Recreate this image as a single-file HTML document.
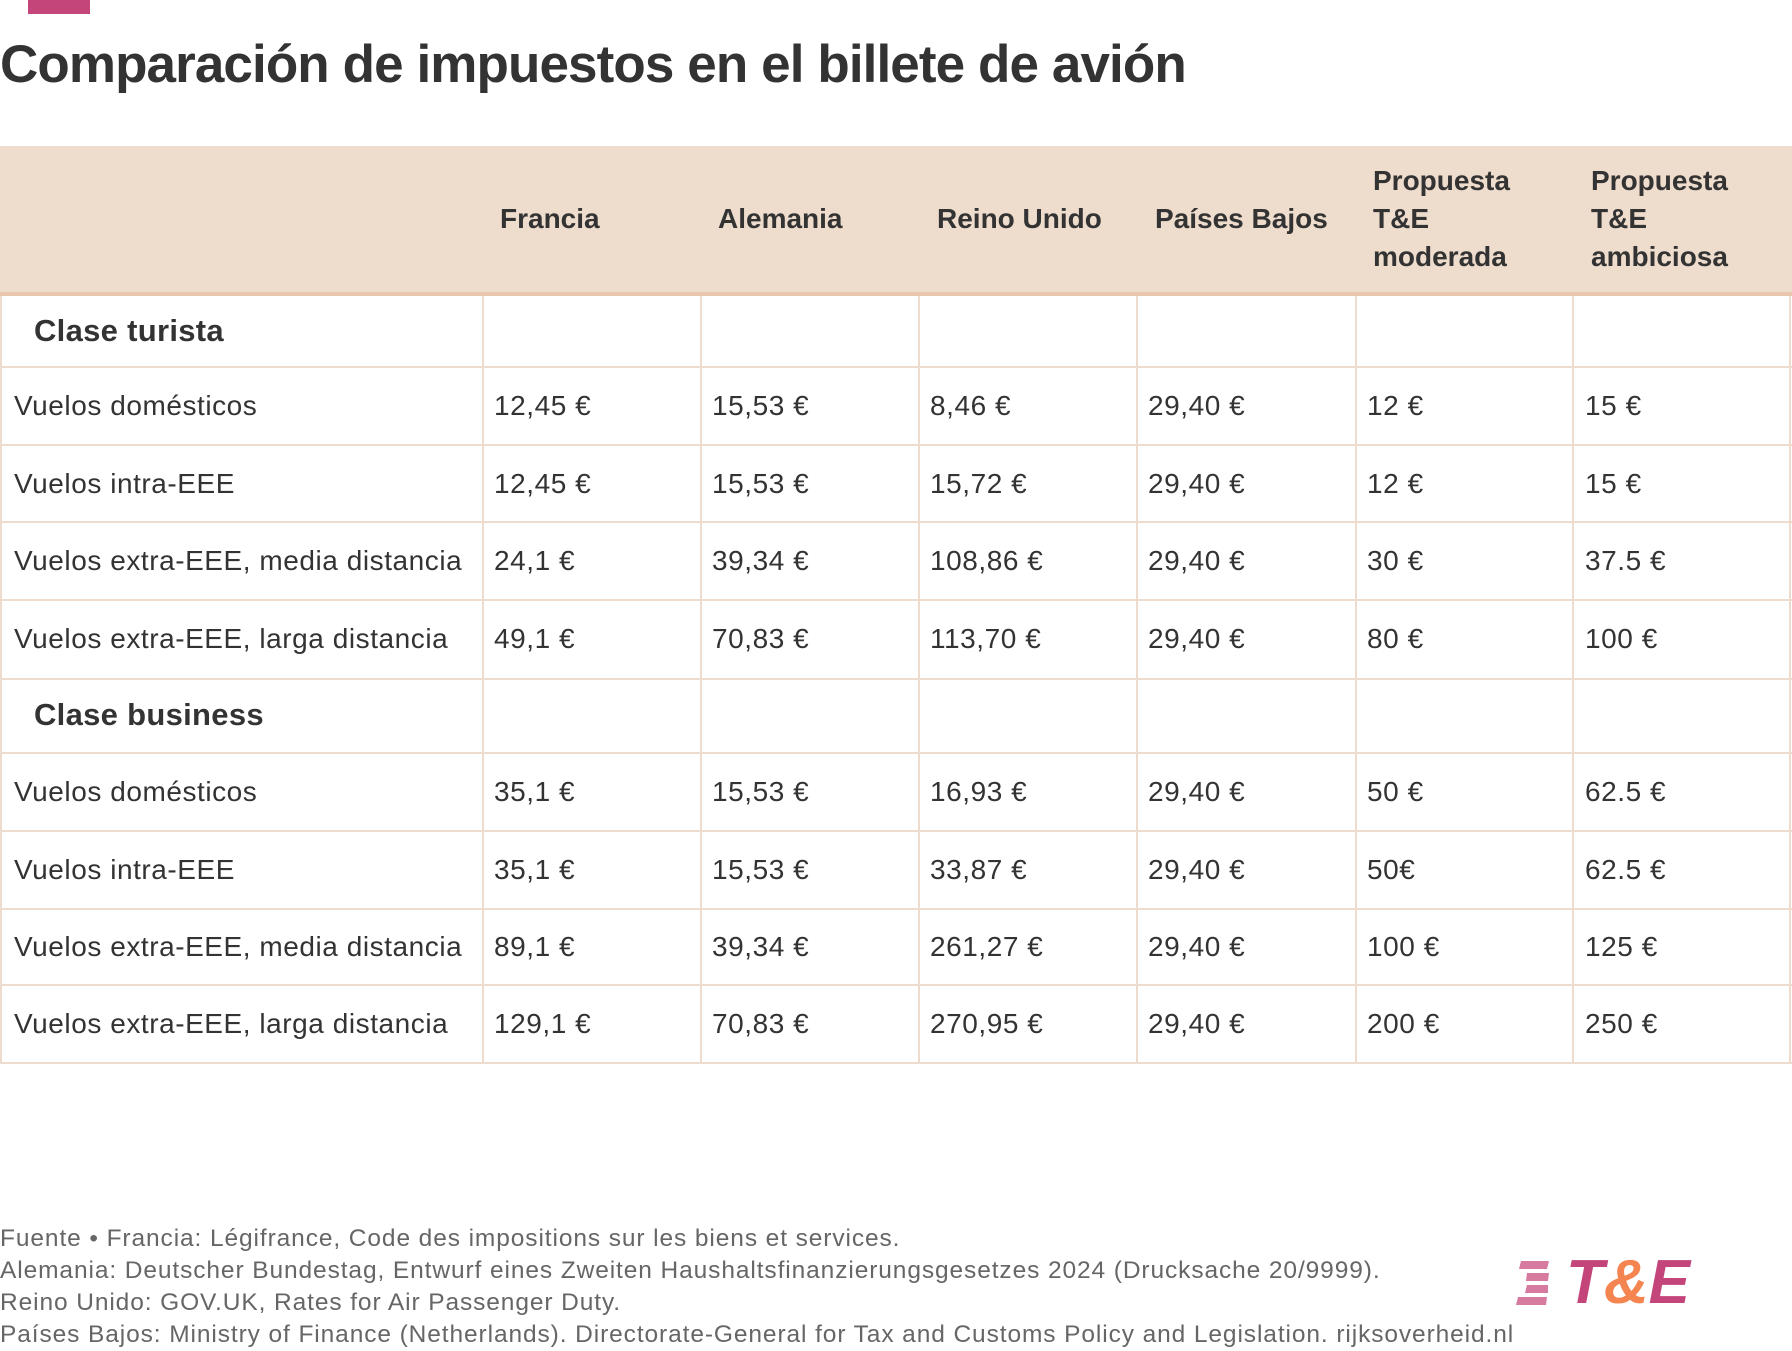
<!DOCTYPE html>
<html><head><meta charset="utf-8"><style>
body{margin:0;width:1792px;height:1350px;background:#fff;position:relative;overflow:hidden;font-family:"Liberation Sans",Arial,sans-serif;color:#333}
.a{position:absolute}
.t{position:absolute;white-space:nowrap;font-size:28px;line-height:32px;letter-spacing:0.55px}
.h{font-weight:bold;font-size:28px;line-height:38px;position:absolute;white-space:nowrap}
.s{font-weight:bold;font-size:31px;line-height:38px;position:absolute;white-space:nowrap;letter-spacing:0.3px}
.vl{position:absolute;width:2px;background:#f0dccd;top:296px;height:767px}
.hl{position:absolute;height:2px;background:#f0dccd;left:0;width:1792px}
.f{position:absolute;left:0;font-size:24.5px;line-height:32px;color:#666;white-space:nowrap;letter-spacing:0.9px}
</style></head><body>
<div class="a" style="left:28px;top:0;width:62px;height:14px;background:#c4457a"></div>
<div class="a" style="left:0;top:30px;font-size:53px;font-weight:bold;line-height:70px;white-space:nowrap;letter-spacing:-0.9px">Comparación de impuestos en el billete de avión</div>
<div class="a" style="left:0;top:146px;width:1792px;height:146px;background:#eedccd"></div>
<div class="a" style="left:0;top:292px;width:1792px;height:4px;background:#e8c5ac"></div>
<div class="h" style="left:500px;top:200px">Francia</div>
<div class="h" style="left:718px;top:200px">Alemania</div>
<div class="h" style="left:937px;top:200px">Reino Unido</div>
<div class="h" style="left:1155px;top:200px">Países Bajos</div>
<div class="h" style="left:1373px;top:162px">Propuesta<br>T&amp;E<br>moderada</div>
<div class="h" style="left:1591px;top:162px">Propuesta<br>T&amp;E<br>ambiciosa</div>
<div class="vl" style="left:0"></div><div class="vl" style="left:482px"></div><div class="vl" style="left:700px"></div><div class="vl" style="left:918px"></div><div class="vl" style="left:1136px"></div><div class="vl" style="left:1355px"></div><div class="vl" style="left:1572px"></div><div class="vl" style="left:1789px"></div>
<div class="hl" style="top:366px"></div><div class="hl" style="top:444px"></div><div class="hl" style="top:521px"></div><div class="hl" style="top:599px"></div><div class="hl" style="top:678px"></div><div class="hl" style="top:752px"></div><div class="hl" style="top:830px"></div><div class="hl" style="top:908px"></div><div class="hl" style="top:984px"></div><div class="hl" style="top:1062px"></div>
<div class="s" style="left:34px;top:312px">Clase turista</div>
<div class="s" style="left:34px;top:696px">Clase business</div>
<div id="rows"></div>
<script>
var d=[[390,"Vuelos domésticos","12,45 €","15,53 €","8,46 €","29,40 €","12 €","15 €"],
[468,"Vuelos intra-EEE","12,45 €","15,53 €","15,72 €","29,40 €","12 €","15 €"],
[545,"Vuelos extra-EEE, media distancia","24,1 €","39,34 €","108,86 €","29,40 €","30 €","37.5 €"],
[623,"Vuelos extra-EEE, larga distancia","49,1 €","70,83 €","113,70 €","29,40 €","80 €","100 €"],
[776,"Vuelos domésticos","35,1 €","15,53 €","16,93 €","29,40 €","50 €","62.5 €"],
[854,"Vuelos intra-EEE","35,1 €","15,53 €","33,87 €","29,40 €","50€","62.5 €"],
[931,"Vuelos extra-EEE, media distancia","89,1 €","39,34 €","261,27 €","29,40 €","100 €","125 €"],
[1008,"Vuelos extra-EEE, larga distancia","129,1 €","70,83 €","270,95 €","29,40 €","200 €","250 €"]];
var xs=[14,494,712,930,1148,1367,1585],h="";
d.forEach(function(r){for(var i=0;i<7;i++)h+='<div class="t" style="left:'+xs[i]+'px;top:'+r[0]+'px">'+r[i+1]+'</div>';});
document.getElementById("rows").innerHTML=h;
</script>
<div class="f" style="top:1223px">Fuente • Francia: Légifrance, Code des impositions sur les biens et services.</div>
<div class="f" style="top:1255px">Alemania: Deutscher Bundestag, Entwurf eines Zweiten Haushaltsfinanzierungsgesetzes 2024 (Drucksache 20/9999).</div>
<div class="f" style="top:1287px">Reino Unido: GOV.UK, Rates for Air Passenger Duty.</div>
<div class="f" style="top:1319px">Países Bajos: Ministry of Finance (Netherlands). Directorate-General for Tax and Customs Policy and Legislation. rijksoverheid.nl</div>
<svg class="a" style="left:1515px;top:1260px" width="36" height="46"><g fill="#d67aa0"><polygon points="6,1 34,1 32,9 4,9"/><polygon points="12,13 34,13 33,21 11,21"/><polygon points="12,25 33,25 33,33 10,33"/><polygon points="3,37 32,37 31,45 1,45"/></g></svg>
<div class="a" style="left:1566px;top:1250px;font-size:62px;font-weight:bold;font-style:italic;line-height:66px;color:#c4457a;white-space:nowrap">T<span style="color:#f58550">&amp;</span>E</div>
</body></html>
